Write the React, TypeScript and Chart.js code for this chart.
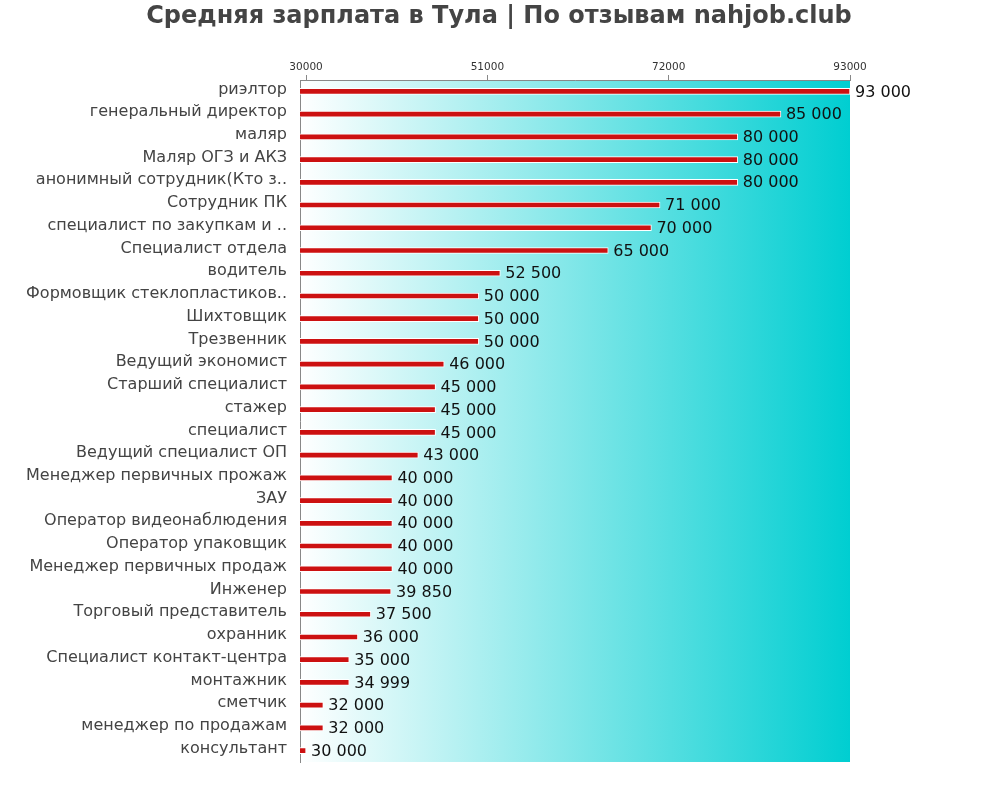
import React, { useEffect, useRef } from "react";
import { Chart, registerables } from "chart.js";

Chart.register(...registerables);

const titleText = "Средняя зарплата в Тула | По отзывам nahjob.club";
const categories = [
  "риэлтор",
  "генеральный директор",
  "маляр",
  "Маляр ОГЗ и АКЗ",
  "анонимный сотрудник(Кто з..",
  "Сотрудник ПК",
  "специалист по закупкам и ..",
  "Специалист отдела",
  "водитель",
  "Формовщик стеклопластиков..",
  "Шихтовщик",
  "Трезвенник",
  "Ведущий экономист",
  "Старший специалист",
  "стажер",
  "специалист",
  "Ведущий специалист ОП",
  "Менеджер первичных прожаж",
  "ЗАУ",
  "Оператор видеонаблюдения",
  "Оператор упаковщик",
  "Менеджер первичных продаж",
  "Инженер",
  "Торговый представитель",
  "охранник",
  "Специалист контакт-центра",
  "монтажник",
  "сметчик",
  "менеджер по продажам",
  "консультант",
];
const salaries = [
  93000, 85000, 80000, 80000, 80000, 71000, 70000, 65000, 52500, 50000, 50000,
  50000, 46000, 45000, 45000, 45000, 43000, 40000, 40000, 40000, 40000, 40000,
  39850, 37500, 36000, 35000, 34999, 32000, 32000, 30000,
];
const tickValues = [30000, 51000, 72000, 93000];
const axisMin = 29300;
const axisMax = 93000;

const fmt = (v: number) => String(v).replace(/\B(?=(\d{3})+(?!\d))/g, " ");

const bgPlugin = {
  id: "bgGradient",
  beforeDraw(chart: any) {
    const { ctx, chartArea } = chart;
    if (!chartArea) return;
    const g = ctx.createLinearGradient(chartArea.left, 0, chartArea.right, 0);
    g.addColorStop(0, "#ffffff");
    g.addColorStop(1, "#00ced1");
    ctx.save();
    ctx.fillStyle = g;
    ctx.fillRect(chartArea.left, chartArea.top, chartArea.right - chartArea.left, chartArea.bottom - chartArea.top);
    ctx.restore();
  },
  afterDraw(chart: any) {
    const { ctx } = chart;
    ctx.save();
    ctx.font = "bold 24px 'DejaVu Sans'";
    ctx.fillStyle = "#444";
    ctx.textAlign = "center";
    ctx.textBaseline = "middle";
    ctx.fillText(titleText, 499, 17);
    ctx.restore();
  },
};

const labelPlugin = {
  id: "valueLabels",
  afterDatasetsDraw(chart: any) {
    const { ctx } = chart;
    const meta = chart.getDatasetMeta(0);
    ctx.save();
    ctx.font = "16px 'DejaVu Sans'";
    ctx.fillStyle = "#111";
    ctx.textAlign = "left";
    ctx.textBaseline = "middle";
    meta.data.forEach((bar: any, i: number) => {
      ctx.fillText(fmt(salaries[i]), bar.x + 5, bar.y + 1);
    });
    ctx.restore();
  },
};

export default function App() {
  const ref = useRef<HTMLCanvasElement>(null);
  useEffect(() => {
    if (!ref.current) return;
    const chart = new Chart(ref.current, {
      type: "bar",
      data: {
        labels: categories,
        datasets: [
          {
            data: salaries,
            backgroundColor: "#cc1111",
            borderColor: "#ffffff",
            borderWidth: 1,
            barThickness: 6,
          },
        ],
      },
      options: {
        indexAxis: "y",
        animation: false,
        responsive: false,
        maintainAspectRatio: false,
        layout: { padding: { left: 0, right: 150, top: 52, bottom: 38 } },
        plugins: {
          legend: { display: false },
          tooltip: { enabled: false },
          title: { display: false },
        },
        scales: {
          x: {
            position: "top",
            min: axisMin,
            max: axisMax,
            afterBuildTicks: (scale: any) => {
              scale.ticks = tickValues.map((v) => ({ value: v }));
            },
            afterFit: (scale: any) => {
              scale.height = 28;
            },
            grid: { display: true, drawOnChartArea: false, drawTicks: true, tickLength: 5, color: "#888" },
            border: { display: true, color: "#888" },
            ticks: {
              color: "#333",
              font: { family: "'DejaVu Sans'", size: 10.5 },
              padding: 1,
              maxRotation: 0,
              autoSkip: false,
              callback: (v: any) => String(v),
            },
          },
          y: {
            afterFit: (scale: any) => {
              scale.width = 300;
            },
            grid: { display: false, drawTicks: false },
            border: { display: true, color: "#888" },
            ticks: {
              color: "#444",
              font: { family: "'DejaVu Sans'", size: 16 },
              padding: 13,
              labelOffset: -2,
              autoSkip: false,
            },
          },
        },
      },
      plugins: [bgPlugin, labelPlugin],
    });
    return () => chart.destroy();
  }, []);
  return (
    <div style={{ position: "absolute", left: 0, top: 0, width: 1000, height: 800, background: "#fff" }}>
      <canvas ref={ref} width={1000} height={800} style={{ width: 1000, height: 800 }} />
    </div>
  );
}
